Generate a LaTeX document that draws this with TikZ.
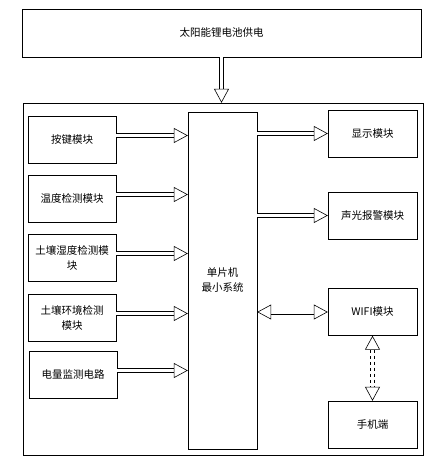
\documentclass[tikz,border=0pt]{standalone}
\usepackage{fontspec}
\newfontfamily\cjk{Noto Sans CJK SC}
\usetikzlibrary{arrows.meta}

\begin{document}
\begin{tikzpicture}[x=1pt, y=-1pt,
	box/.style={draw, inner sep=0pt, font=\cjk\fontsize{10.5}{15}\selectfont, align=center},
	hollow/.style={double, double distance=3.8pt, line width=0.6pt,
		-{Triangle[open, length=14pt, width=15pt, line width=0.6pt]}},
	hollowboth/.style={double, double distance=3.8pt, line width=0.6pt,
		{Triangle[open, length=14pt, width=15pt, line width=0.6pt]}-{Triangle[open, length=14pt, width=15pt, line width=0.6pt]}}]

		\useasboundingbox (0,0) rectangle (435,470);

		\node[box, minimum width=399pt, minimum height=48pt] (power) at (221.5,33) {太阳能锂电池供电};
		\node[draw, inner sep=0pt, minimum width=400pt, minimum height=352pt] (board) at (223,279) {};

		\node[box, minimum width=69pt, minimum height=337pt] (mcu) at (222.5,280.5) {单片机\\最小系统};

		\node[box, minimum width=88pt, minimum height=47pt] (key) at (72,139.5) {按键模块};
		\node[box, minimum width=88pt, minimum height=47pt] (temp) at (72,198.5) {温度检测模块};
		\node[box, minimum width=88pt, minimum height=47pt] (soilhum) at (72,257.5) {土壤湿度检测模\\块};
		\node[box, minimum width=88pt, minimum height=47pt] (soilenv) at (72,317.5) {土壤环境检测\\模块};
		\node[box, minimum width=88pt, minimum height=47pt] (battery) at (73,374.5) {电量监测电路};

		\node[box, minimum width=89pt, minimum height=47pt] (display) at (372.5,133.5) {显示模块};
		\node[box, minimum width=89pt, minimum height=47pt] (alarm) at (372.5,215.5) {声光报警模块};
		\node[box, minimum width=89pt, minimum height=47pt] (wifi) at (372.5,312) {WIFI模块};
		\node[box, minimum width=89pt, minimum height=47pt] (phone) at (372.5,424.5) {手机端};

		\draw[hollow] (power.south) -- (power.south |- board.north);

		\draw[hollow] ([yshift=4pt]key.east) -- ([yshift=4pt]key.east -| mcu.west);
		\draw[hollow] ([yshift=4pt]temp.east) -- ([yshift=4pt]temp.east -| mcu.west);
		\draw[hollow] ([yshift=4pt]soilhum.east) -- ([yshift=4pt]soilhum.east -| mcu.west);
		\draw[hollow] ([yshift=4pt]soilenv.east) -- ([yshift=4pt]soilenv.east -| mcu.west);
		\draw[hollow] ([yshift=4pt]battery.east) -- ([yshift=4pt]battery.east -| mcu.west);

		\draw[hollow] (mcu.east |- display.west) -- (display.west);
		\draw[hollow] (mcu.east |- alarm.west) -- (alarm.west);
		\draw[hollowboth] (mcu.east |- wifi.west) -- (wifi.west);
		\draw[hollowboth, dashed] (wifi.south) -- (phone.north);

	\end{tikzpicture}
\end{document}
